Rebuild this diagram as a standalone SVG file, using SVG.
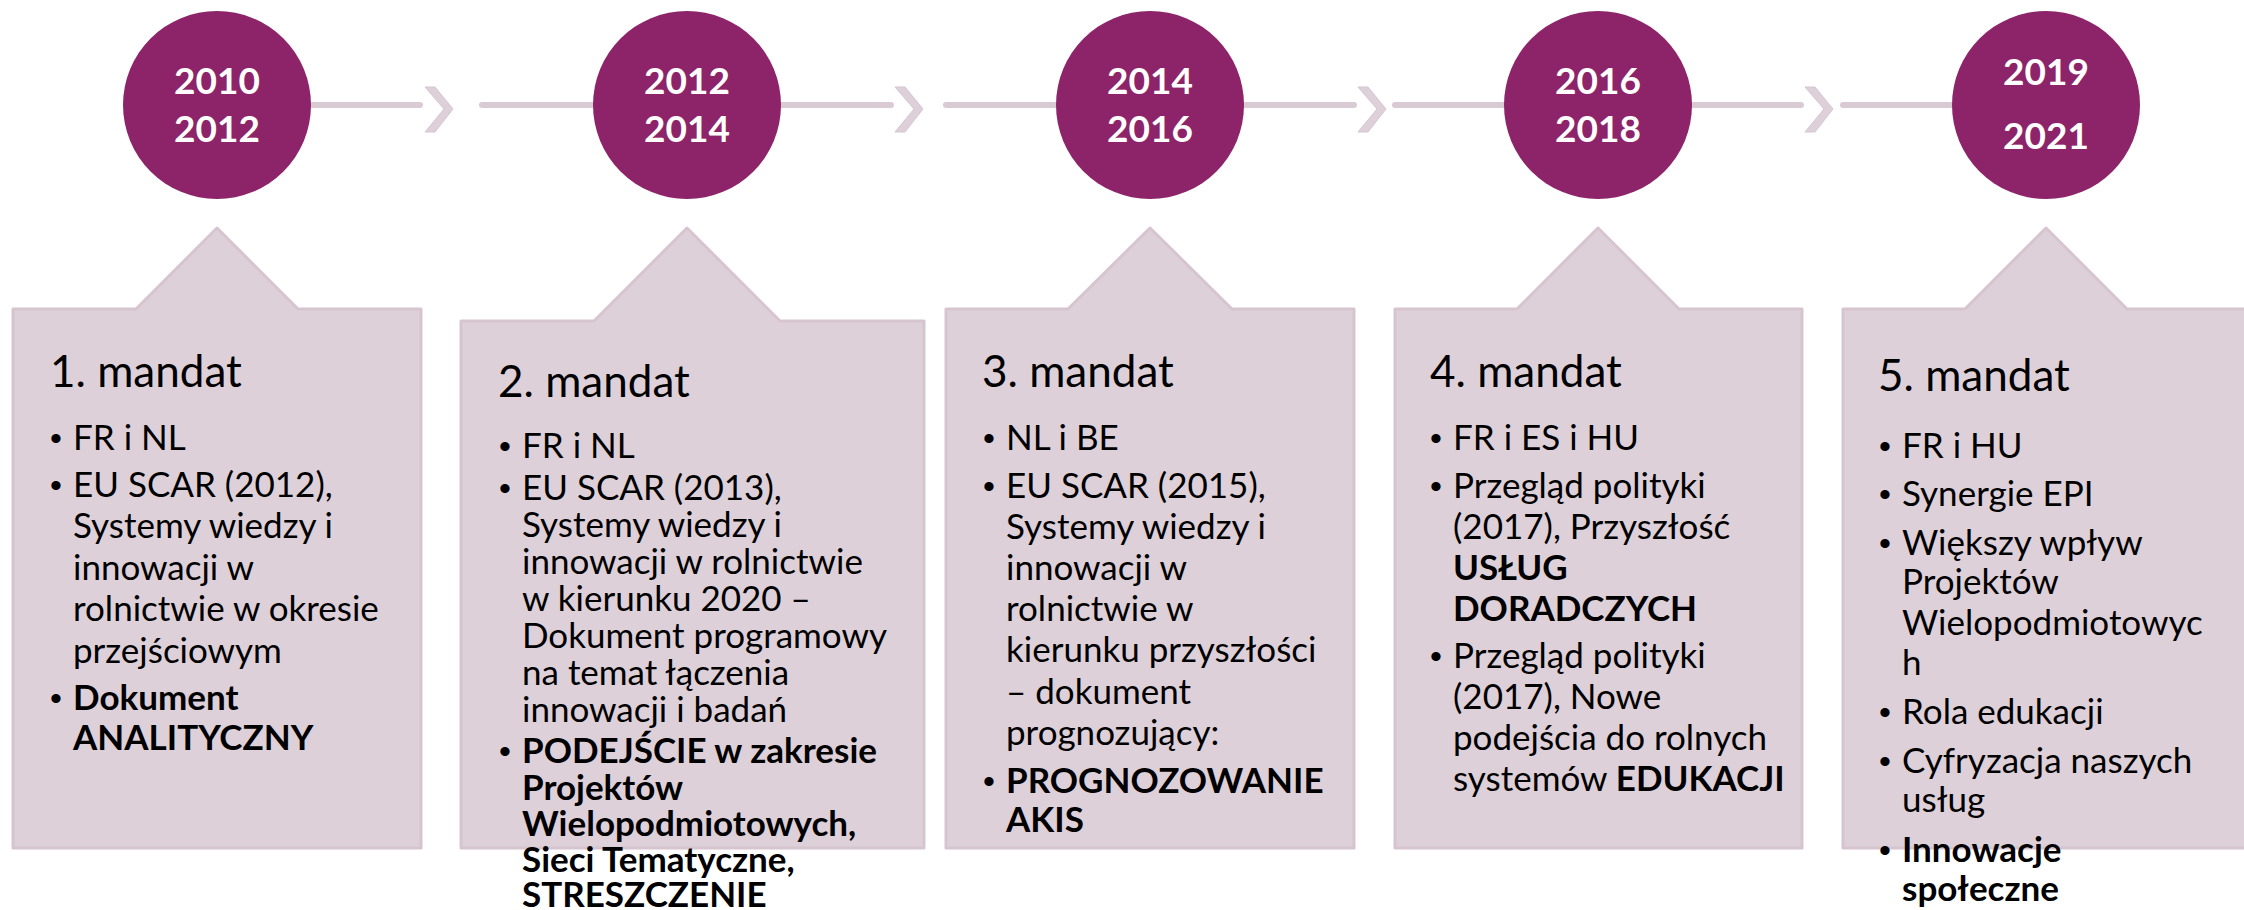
<svg xmlns="http://www.w3.org/2000/svg" width="2244" height="910" viewBox="0 0 2244 910">
<style>
.bg{fill:#ffffff}
.yr{fill:#8d2369}
.yt{font-family:Lato,"Liberation Sans",sans-serif;font-weight:bold;font-size:37px;fill:#ffffff;text-anchor:middle}
.box{fill:#ddd0d9;stroke:#d6c5cf;stroke-width:3;stroke-linejoin:round}
.ln{stroke:#dacad4;stroke-width:6;stroke-linecap:round;fill:none}
.chev{fill:#ddd0d9;stroke:#d6c5cf;stroke-width:1}
.t{font-family:Lato,"Liberation Sans",sans-serif;font-size:35px;fill:#000000}
.bu{font-family:"Liberation Sans",sans-serif;font-size:34px;fill:#000000}
.h{font-family:Lato,"Liberation Sans",sans-serif;font-size:44px;fill:#000000}
.b{font-weight:bold}
</style>
<rect class="bg" x="0" y="0" width="2244" height="910"/>
<g id="connectors">
<line class="ln" x1="310" y1="105" x2="420" y2="105"/>
<polygon class="chev" points="425,87 435,87 453,109 435,132 425,132 444,109"/>
<line class="ln" x1="482" y1="105" x2="594" y2="105"/>
<line class="ln" x1="780" y1="105" x2="891" y2="105"/>
<polygon class="chev" points="895,87 905,87 923,109 905,132 895,132 914,109"/>
<line class="ln" x1="946" y1="105" x2="1056" y2="105"/>
<line class="ln" x1="1243" y1="105" x2="1354" y2="105"/>
<polygon class="chev" points="1358,87 1368,87 1386,109 1368,132 1358,132 1377,109"/>
<line class="ln" x1="1395" y1="105" x2="1505" y2="105"/>
<line class="ln" x1="1691" y1="105" x2="1801" y2="105"/>
<polygon class="chev" points="1805,87 1815,87 1833,109 1815,132 1805,132 1824,109"/>
<line class="ln" x1="1843" y1="105" x2="1952" y2="105"/>
</g>
<g id="year1">
<circle class="yr" cx="217" cy="105" r="94"/>
<text class="yt" x="217" y="94">2010</text>
<text class="yt" x="217" y="142">2012</text>
</g>
<g id="year2">
<circle class="yr" cx="687" cy="105" r="94"/>
<text class="yt" x="687" y="94">2012</text>
<text class="yt" x="687" y="142">2014</text>
</g>
<g id="year3">
<circle class="yr" cx="1150" cy="105" r="94"/>
<text class="yt" x="1150" y="94">2014</text>
<text class="yt" x="1150" y="142">2016</text>
</g>
<g id="year4">
<circle class="yr" cx="1598" cy="105" r="94"/>
<text class="yt" x="1598" y="94">2016</text>
<text class="yt" x="1598" y="142">2018</text>
</g>
<g id="year5">
<circle class="yr" cx="2046" cy="105" r="94"/>
<text class="yt" x="2046" y="85">2019</text>
<text class="yt" x="2046" y="149">2021</text>
</g>
<g id="mandate1">
<path class="box" d="M13,309 L136,309 L217,228 L298,309 L421,309 L421,848 L13,848 Z"/>
<text class="h" x="50" y="387">1. mandat</text>
<text class="bu" x="50" y="450">•</text>
<text class="t" x="73" y="450">FR i NL</text>
<text class="bu" x="50" y="497">•</text>
<text class="t" x="73" y="497">EU SCAR (2012),</text>
<text class="t" x="73" y="538">Systemy wiedzy i</text>
<text class="t" x="73" y="580">innowacji w</text>
<text class="t" x="73" y="621">rolnictwie w okresie</text>
<text class="t" x="73" y="663">przejściowym</text>
<text class="bu" x="50" y="710">•</text>
<text class="t b" x="73" y="710">Dokument</text>
<text class="t b" x="73" y="750">ANALITYCZNY</text>
</g>
<g id="mandate2">
<path class="box" d="M461,321 L594,321 L687,228 L780,321 L924,321 L924,848 L461,848 Z"/>
<text class="h" x="498" y="397">2. mandat</text>
<text class="bu" x="499" y="458">•</text>
<text class="t" x="522" y="458">FR i NL</text>
<text class="bu" x="499" y="500">•</text>
<text class="t" x="522" y="500">EU SCAR (2013),</text>
<text class="t" x="522" y="537">Systemy wiedzy i</text>
<text class="t" x="522" y="574">innowacji w rolnictwie</text>
<text class="t" x="522" y="611">w kierunku 2020 –</text>
<text class="t" x="522" y="648">Dokument programowy</text>
<text class="t" x="522" y="685">na temat łączenia</text>
<text class="t" x="522" y="722">innowacji i badań</text>
<text class="bu" x="499" y="763">•</text>
<text class="t b" x="522" y="763">PODEJŚCIE w zakresie</text>
<text class="t b" x="522" y="800">Projektów</text>
<text class="t b" x="522" y="836">Wielopodmiotowych,</text>
<text class="t b" x="522" y="872">Sieci Tematyczne,</text>
<text class="t b" x="522" y="907">STRESZCZENIE</text>
</g>
<g id="mandate3">
<path class="box" d="M946,309 L1068,309 L1150,228 L1232,309 L1354,309 L1354,848 L946,848 Z"/>
<text class="h" x="982" y="387">3. mandat</text>
<text class="bu" x="983" y="450">•</text>
<text class="t" x="1006" y="450">NL i BE</text>
<text class="bu" x="983" y="498">•</text>
<text class="t" x="1006" y="498">EU SCAR (2015),</text>
<text class="t" x="1006" y="539">Systemy wiedzy i</text>
<text class="t" x="1006" y="580">innowacji w</text>
<text class="t" x="1006" y="621">rolnictwie w</text>
<text class="t" x="1006" y="662">kierunku przyszłości</text>
<text class="t" x="1006" y="704">– dokument</text>
<text class="t" x="1006" y="745">prognozujący:</text>
<text class="bu" x="983" y="793">•</text>
<text class="t b" x="1006" y="793">PROGNOZOWANIE</text>
<text class="t b" x="1006" y="832">AKIS</text>
</g>
<g id="mandate4">
<path class="box" d="M1395,309 L1517,309 L1598,228 L1679,309 L1802,309 L1802,848 L1395,848 Z"/>
<text class="h" x="1430" y="387">4. mandat</text>
<text class="bu" x="1430" y="450">•</text>
<text class="t" x="1453" y="450">FR i ES i HU</text>
<text class="bu" x="1430" y="498">•</text>
<text class="t" x="1453" y="498">Przegląd polityki</text>
<text class="t" x="1453" y="539">(2017), Przyszłość</text>
<text class="t b" x="1453" y="580">USŁUG</text>
<text class="t b" x="1453" y="621">DORADCZYCH</text>
<text class="bu" x="1430" y="668">•</text>
<text class="t" x="1453" y="668">Przegląd polityki</text>
<text class="t" x="1453" y="709">(2017), Nowe</text>
<text class="t" x="1453" y="750">podejścia do rolnych</text>
<text class="t" x="1453" y="791">systemów <tspan class="b">EDUKACJI</tspan></text>
</g>
<g id="mandate5">
<path class="box" d="M1843,309 L1965,309 L2046,228 L2127,309 L2250,309 L2250,848 L1843,848 Z"/>
<text class="h" x="1878" y="391">5. mandat</text>
<text class="bu" x="1879" y="458">•</text>
<text class="t" x="1902" y="458">FR i HU</text>
<text class="bu" x="1879" y="506">•</text>
<text class="t" x="1902" y="506">Synergie EPI</text>
<text class="bu" x="1879" y="555">•</text>
<text class="t" x="1902" y="555">Większy wpływ</text>
<text class="t" x="1902" y="594">Projektów</text>
<text class="t" x="1902" y="635">Wielopodmiotowyc</text>
<text class="t" x="1902" y="675">h</text>
<text class="bu" x="1879" y="724">•</text>
<text class="t" x="1902" y="724">Rola edukacji</text>
<text class="bu" x="1879" y="773">•</text>
<text class="t" x="1902" y="773">Cyfryzacja naszych</text>
<text class="t" x="1902" y="812">usług</text>
<text class="bu" x="1879" y="862">•</text>
<text class="t b" x="1902" y="862">Innowacje</text>
<text class="t b" x="1902" y="901">społeczne</text>
</g>
</svg>
